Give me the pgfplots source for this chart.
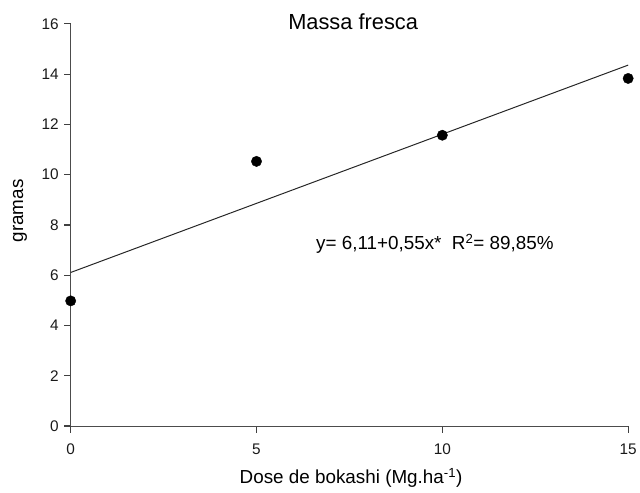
\documentclass[border=0pt]{standalone}
\usepackage{fontspec}
\setmainfont{Liberation Sans}
\usepackage{pgfplots}
\pgfplotsset{compat=1.18}
\begin{document}
\begin{tikzpicture}
\path (-71bp,-67bp) rectangle (569bp,428bp);
\begin{axis}[
  at={(0,0)}, anchor=south west,
  scale only axis, width=560bp, height=404bp,
  xmin=0, xmax=15, ymin=0, ymax=16,
  axis x line=bottom, axis y line=left,
  axis line style={-, draw=black!70, line width=1.1bp},
  xtick={0,5,10,15}, ytick={0,2,...,16},
  xtick align=outside, ytick align=outside,
  major tick length=6.5bp,
  every tick/.append style={black!75, line width=1.2bp},
  /pgf/number format/assume math mode=true,
  tick label style={font=\fontsize{15.5}{18}\selectfont, color=black!90},
  xticklabel style={yshift=-8bp},
  yticklabel style={xshift=-2bp},
  xlabel={Dose de bokashi (Mg.ha\textsuperscript{-1})},
  xlabel style={at={(axis description cs:0.503,0)}, anchor=center, yshift=-52bp, font=\fontsize{19}{22}\selectfont},
  ylabel={gramas},
  ylabel style={at={(axis description cs:-0.091,0.535)}, anchor=center, font=\fontsize{19}{22}\selectfont},
  clip=false,
]
\addplot[black!85, line width=1bp] coordinates {(0,6.11) (15,14.36)};
\addplot[only marks, mark=*, mark size=5.2bp, black] coordinates {(0,4.98) (5,10.53) (10,11.57) (15,13.83)};
\node[font=\fontsize{22}{26}\selectfont] at (axis cs:7.6,16.08) {Massa fresca};
\node[font=\fontsize{19}{22}\selectfont] at (axis cs:9.8,7.25) {y= 6,11+0,55x*\ \ R\textsuperscript{2}= 89,85\%};
\end{axis}
\end{tikzpicture}
\end{document}
